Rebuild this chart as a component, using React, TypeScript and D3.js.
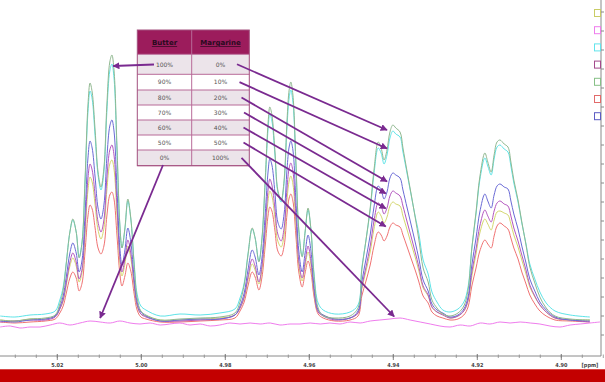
import React, { useEffect } from 'react';
import * as d3 from 'd3';

// chemical shift grid (ppm) shared by the butter-containing spectra
const ppm = [5.0336, 5.0301, 5.0265, 5.0229, 5.0205,
  5.0194, 5.0186, 5.0179, 5.0170, 5.0163, 5.0155, 5.0148, 5.0141, 5.0134, 5.0127, 5.0122, 5.0117, 5.0110, 5.0103, 5.0096, 5.0089, 5.0082, 5.0075, 5.0070, 5.0065, 5.0058, 5.0051, 5.0046, 5.0039, 5.0032, 5.0025, 5.0017, 5.0010, 5.0001, 4.9989,
  4.9955, 4.9908, 4.9860, 4.9813, 4.9777,
  4.9765, 4.9755, 4.9746, 4.9736, 4.9729, 4.9720, 4.9713, 4.9705, 4.9698, 4.9694, 4.9689, 4.9682, 4.9675, 4.9667, 4.9660, 4.9653, 4.9648, 4.9644, 4.9639, 4.9632, 4.9625, 4.9617, 4.9610, 4.9603, 4.9596, 4.9589, 4.9579, 4.9567,
  4.9539, 4.9503, 4.9484,
  4.9475, 4.9465, 4.9455, 4.9446, 4.9436, 4.9429, 4.9422, 4.9415, 4.9408, 4.9401, 4.9394, 4.9384, 4.9377, 4.9367, 4.9358, 4.9348, 4.9339, 4.9329, 4.9317, 4.9308, 4.9296, 4.9282,
  4.9265, 4.9246,
  4.9232, 4.9222, 4.9213, 4.9203, 4.9194, 4.9182, 4.9175, 4.9167, 4.9160, 4.9153, 4.9146, 4.9136, 4.9127, 4.9120, 4.9113, 4.9103, 4.9094, 4.9084, 4.9075, 4.9063, 4.9051, 4.9036,
  4.9015, 4.8979, 4.8932];

// 100% butter (green)
const butter100 = [0, -1, 1, 2, 5,
  16, 30, 55, 88, 101, 88, 62, 78, 140, 215, 237, 228, 190, 148, 133, 152, 215, 258, 265, 250, 175, 95, 72, 92, 121, 102, 55, 22, 9, 5,
  0, 1, 2, 3, 7,
  18, 35, 65, 92, 82, 58, 80, 140, 198, 213, 205, 170, 130, 120, 140, 200, 230, 238, 225, 160, 90, 63, 88, 112, 90, 45, 12, 4,
  2, 4, 12,
  50, 80, 112, 150, 178, 172, 160, 170, 188, 195, 192, 188, 172, 148, 127, 103, 80, 52, 38, 20, 12, 6,
  4, 7,
  14, 30, 72, 108, 143, 167, 158, 148, 165, 178, 180, 176, 173, 158, 140, 120, 98, 75, 53, 37, 23, 12,
  4, 1, 0];

// 90% butter (cyan)
const butter90 = [4, 3, 5, 6, 9,
  20, 33, 56, 88, 100, 88, 63, 78, 137, 208, 229, 221, 184, 145, 130, 148, 208, 249, 256, 242, 170, 94, 72, 91, 119, 101, 57, 26, 14, 10,
  4, 6, 5, 7, 11,
  22, 37, 66, 91, 82, 59, 80, 137, 192, 206, 199, 166, 128, 118, 137, 194, 222, 230, 218, 156, 90, 64, 88, 110, 90, 48, 17, 10,
  6, 8, 15,
  52, 80, 110, 146, 172, 167, 156, 165, 182, 189, 186, 183, 168, 146, 126, 104, 86, 60, 46, 28, 18, 10,
  8, 11,
  18, 33, 72, 106, 140, 162, 154, 145, 161, 173, 175, 171, 168, 154, 137, 118, 97, 76, 56, 41, 28, 17,
  9, 5, 3];

// 80% butter (blue)
const butter80 = [-1, -2, 0, 1, 4,
  13, 24, 42, 67, 77, 67, 48, 60, 106, 162, 179, 172, 143, 112, 101, 115, 162, 194, 200, 189, 132, 72, 55, 70, 92, 78, 42, 18, 8, 4,
  -1, 0, 1, 1, 5,
  14, 27, 50, 70, 63, 45, 61, 106, 149, 161, 155, 128, 98, 91, 106, 151, 173, 179, 170, 121, 69, 48, 67, 85, 69, 35, 10, 5,
  1, 2, 9,
  38, 61, 85, 113, 134, 130, 121, 128, 142, 147, 145, 142, 130, 112, 96, 78, 61, 40, 29, 16, 10, 7,
  3, 5,
  11, 23, 55, 82, 108, 126, 119, 112, 125, 134, 136, 133, 131, 119, 106, 91, 74, 57, 41, 29, 18, 10,
  3, 0, -1];

// 70% butter (purple)
const butter70 = [-2, -1, 0, 0, 3,
  11, 20, 36, 58, 67, 58, 41, 51, 92, 142, 156, 150, 125, 98, 88, 100, 142, 170, 175, 165, 116, 63, 48, 61, 80, 67, 36, 15, 6, 3,
  -1, -1, 0, 1, 5,
  12, 23, 43, 61, 54, 38, 53, 92, 131, 141, 135, 112, 86, 79, 92, 132, 152, 157, 149, 106, 59, 42, 58, 74, 59, 30, 8, 4,
  0, 2, 7,
  33, 53, 74, 99, 117, 114, 106, 112, 124, 129, 127, 124, 114, 98, 84, 68, 53, 34, 25, 13, 8, 5,
  2, 4,
  9, 20, 48, 71, 94, 110, 104, 98, 109, 117, 119, 116, 114, 104, 92, 79, 65, 50, 35, 24, 15, 8,
  2, 0, -2];

// 60% butter (yellow)
const butter60 = [0, -1, 1, 1, 4,
  11, 19, 34, 54, 62, 54, 38, 48, 85, 130, 143, 138, 115, 90, 81, 92, 130, 156, 160, 151, 106, 58, 44, 56, 74, 62, 34, 14, 6, 4,
  0, 0, 1, 2, 5,
  12, 22, 40, 56, 50, 36, 49, 85, 120, 129, 124, 103, 79, 73, 85, 121, 139, 144, 136, 97, 55, 39, 54, 68, 55, 28, 8, 5,
  1, 2, 7,
  31, 49, 68, 91, 108, 104, 97, 103, 114, 118, 116, 114, 104, 90, 77, 63, 49, 32, 24, 13, 8, 6,
  2, 4,
  9, 19, 44, 66, 87, 101, 96, 90, 100, 108, 109, 107, 105, 96, 85, 73, 60, 46, 33, 23, 15, 8,
  2, 0, 0];

// 50% butter (red)
const butter50 = [-2, -3, -2, -1, 1,
  7, 14, 26, 42, 48, 42, 29, 37, 68, 104, 115, 111, 92, 72, 66, 74, 104, 125, 128, 121, 85, 46, 34, 44, 57, 49, 26, 10, 3, 1,
  -2, -2, -1, 0, 2,
  9, 18, 34, 48, 43, 30, 42, 74, 105, 113, 109, 90, 69, 64, 74, 106, 122, 126, 119, 85, 48, 33, 47, 59, 48, 24, 6, 2,
  -1, 0, 4,
  24, 39, 55, 74, 88, 85, 79, 84, 93, 97, 95, 93, 85, 73, 62, 50, 38, 24, 17, 8, 4, 2,
  0, 1,
  5, 13, 34, 52, 69, 80, 76, 72, 84, 94, 97, 94, 91, 82, 72, 61, 48, 36, 25, 16, 9, 4,
  0, -1, -2];

// 0% butter / 100% margarine (pink), own grid
const ppmMarg = [5.0336, 5.0312, 5.0289, 5.0265, 5.0241, 5.0217, 5.0194, 5.0170, 5.0146, 5.0122,
  5.0098, 5.0074, 5.0051, 5.0027, 5.0003, 4.9979, 4.9955, 4.9932, 4.9908, 4.9884,
  4.9860, 4.9836, 4.9813, 4.9789, 4.9765, 4.9741, 4.9717, 4.9693, 4.9670, 4.9646,
  4.9622, 4.9598, 4.9574, 4.9551, 4.9527, 4.9503, 4.9479, 4.9455, 4.9432, 4.9408,
  4.9384, 4.9360, 4.9336, 4.9312, 4.9289, 4.9265, 4.9241, 4.9217, 4.9193, 4.9170,
  4.9146, 4.9122, 4.9098, 4.9074, 4.9051, 4.9027, 4.9003, 4.8979, 4.8955, 4.8932, 4.8908];
const butter0 = [-7, -6, -8, -7, -7, -5, -3, -5, -3, -1,
  -2, -3, -1, -3, -4, -3, -5, -4, -3, -5,
  -4, -6, -5, -3, -4, -3, -4, -3, -5, -4,
  -4, -3, -4, -3, -4, -2, -3, -1, 0, 1,
  2, 0, -2, -4, -6, -7, -5, -6, -3, -4,
  -2, -3, -2, -3, -4, -6, -7, -5, -4, -3, -2];

const butterLabels = ['100%', '90%', '80%', '70%', '60%', '50%', '0%'];
const margarineLabels = ['0%', '10%', '20%', '30%', '40%', '50%', '100%'];
const xTickLabels = ['5.02', '5.00', '4.98', '4.96', '4.94', '4.92', '4.90'];
const xTickValues = [5.02, 5.00, 4.98, 4.96, 4.94, 4.92, 4.90];
const legendColors = ['#c9cc66', '#ef7ced', '#62e4ec', '#a44a8c', '#86c086', '#e26a6a', '#5c5cc4'];
// arrow targets (ppm, intensity) for margarine rows
const arrowTargetPpm = [4.9415, 4.9415, 4.9415, 4.9418, 4.9418, 4.9418, 4.9398];
const arrowTargetInt = [190, 171.5, 138.5, 126.5, 111.5, 93.5, 3.5];

export default function App() {
  useEffect(() => { document.body.style.margin = '0'; }, []);
  const W = 605, H = 382;
  const x = d3.scaleLinear().domain([5.02, 4.90]).range([57.3, 561.3]);
  const y = d3.scaleLinear().domain([0, 300]).range([320, 20]);
  const line = d3.line<[number, number]>()
    .x(d => x(d[0])).y(d => y(d[1]))
    .curve(d3.curveCatmullRom.alpha(0.5));

  const series = [
    { color: '#f07272', values: butter50 },
    { color: '#d4d66c', values: butter60 },
    { color: '#b356bf', values: butter70 },
    { color: '#6a6ad6', values: butter80 },
    { color: '#5ee4e8', values: butter90 },
    { color: '#90b890', values: butter100 },
  ];
  const pts = (vals: number[], grid: number[]) =>
    grid.map((p, i) => [p, vals[i] ?? 0] as [number, number]);

  const axisY = 356;
  const minor = d3.range(0, 29).map(i => 5.03 - i * 0.005);
  const rightTicks = d3.range(0, 18).map(i => 335 - i * 19);

  // table geometry
  const tL = 137.3, tM = 191.7, tR = 249.3, tTop = 30, hBot = 54.3;
  const rowB = [54.3, 74.3, 90, 105, 120, 135, 150, 165.7];
  const purple = '#7a2a90';

  return (
    <svg width={W} height={H} style={{ position: 'absolute', left: 0, top: 0, background: '#fff' }}>
      <defs>
        <clipPath id="plot"><rect x={0} y={0} width={601} height={axisY} /></clipPath>
        <marker id="ah" viewBox="0 0 10 10" refX={9} refY={5} markerWidth={7} markerHeight={7}
          markerUnits="userSpaceOnUse" orient="auto">
          <path d="M0,0 L10,5 L0,10 z" fill={purple} />
        </marker>
      </defs>
      <rect x={0} y={0} width={W} height={H} fill="#fff" />
      <g clipPath="url(#plot)">
        {series.map((s, i) => (
          <path key={i} d={line(pts(s.values, ppm)) || ''} fill="none" stroke={s.color} strokeWidth={1} />
        ))}
        <path d={line(pts(butter0, ppmMarg)) || ''} fill="none" stroke="#ef7ced" strokeWidth={1} />
      </g>

      {/* right axis */}
      <line x1={601} x2={601} y1={0} y2={axisY} stroke="#8a8a8a" strokeWidth={1} />
      {rightTicks.map((t, i) => (
        <line key={i} x1={601} x2={604} y1={t} y2={t} stroke="#8a8a8a" strokeWidth={1} />
      ))}
      {legendColors.map((c, i) => (
        <rect key={i} x={594.5} y={9.5 + i * 17.2} width={6} height={7} fill="none" stroke={c} strokeWidth={1} />
      ))}

      {/* bottom axis */}
      <line x1={0} x2={601} y1={axisY} y2={axisY} stroke="#8a8a8a" strokeWidth={1} />
      {minor.map((m, i) => (
        <line key={i} x1={x(m)} x2={x(m)} y1={axisY - 1.5} y2={axisY + 2} stroke="#8a8a8a" strokeWidth={0.8} />
      ))}
      {xTickValues.map((v, i) => (
        <g key={i}>
          <line x1={x(v)} x2={x(v)} y1={axisY - 2} y2={axisY + 4} stroke="#777" strokeWidth={0.9} />
          <text x={x(v)} y={367} textAnchor="middle" fontFamily="DejaVu Sans Condensed, DejaVu Sans" fontWeight="bold"
            fontSize={5.5} fill="#444">{xTickLabels[i]}</text>
        </g>
      ))}
      <text x={590} y={367} textAnchor="middle" fontFamily="DejaVu Sans Condensed, DejaVu Sans" fontWeight="bold"
        fontSize={5.5} fill="#444">[ppm]</text>

      {/* red footer */}
      <rect x={0} y={369} width={W} height={13} fill="#c30000" />
      <line x1={0} x2={W} y1={369.5} y2={369.5} stroke="#d94848" strokeWidth={1} />

      {/* table */}
      <rect x={tL} y={tTop} width={tR - tL} height={hBot - tTop} fill="#9c1c5c" />
      {rowB.slice(0, -1).map((b, i) => (
        <rect key={i} x={tL} y={b} width={tR - tL} height={rowB[i + 1] - b}
          fill={i % 2 === 0 ? '#ece4ea' : '#ffffff'} />
      ))}
      {rowB.map((b, i) => (
        <line key={i} x1={tL} x2={tR} y1={b} y2={b} stroke="#b86a98" strokeWidth={1} />
      ))}
      <line x1={tM} x2={tM} y1={tTop} y2={rowB[7]} stroke="#b86a98" strokeWidth={1} />
      <rect x={tL} y={tTop} width={tR - tL} height={rowB[7] - tTop} fill="none" stroke="#a3507f" strokeWidth={1} />
      <text x={(tL + tM) / 2} y={45} textAnchor="middle" fontFamily="DejaVu Sans" fontWeight="bold" fontSize={7}
        fill="#2a0a1e" textDecoration="underline">Butter</text>
      <text x={(tM + tR) / 2} y={45} textAnchor="middle" fontFamily="DejaVu Sans" fontWeight="bold" fontSize={7}
        fill="#2a0a1e" textDecoration="underline">Margarine</text>
      {butterLabels.map((l, i) => (
        <g key={i}>
          <text x={(tL + tM) / 2} y={(rowB[i] + rowB[i + 1]) / 2 + 2.2} textAnchor="middle" fontFamily="DejaVu Sans"
            fontSize={6} fill="#555">{l}</text>
          <text x={(tM + tR) / 2} y={(rowB[i] + rowB[i + 1]) / 2 + 2.2} textAnchor="middle" fontFamily="DejaVu Sans"
            fontSize={6} fill="#555">{margarineLabels[i]}</text>
        </g>
      ))}

      {/* arrows */}
      <line x1={154} y1={64.5} x2={x(5.0067)} y2={y(254)} stroke={purple} strokeWidth={1.8} markerEnd="url(#ah)" />
      <line x1={163} y1={165} x2={x(5.0098)} y2={y(2)} stroke={purple} strokeWidth={1.8} markerEnd="url(#ah)" />
      {margarineLabels.map((l, i) => {
        const sx = [237, 239.5, 241.5, 244, 243.5, 243.5, 241.5][i];
        const sy = (rowB[i] + rowB[i + 1]) / 2;
        return (
          <line key={l} x1={sx} y1={sy} x2={x(arrowTargetPpm[i])} y2={y(arrowTargetInt[i])}
            stroke={purple} strokeWidth={1.8} markerEnd="url(#ah)" />
        );
      })}
    </svg>
  );
}
